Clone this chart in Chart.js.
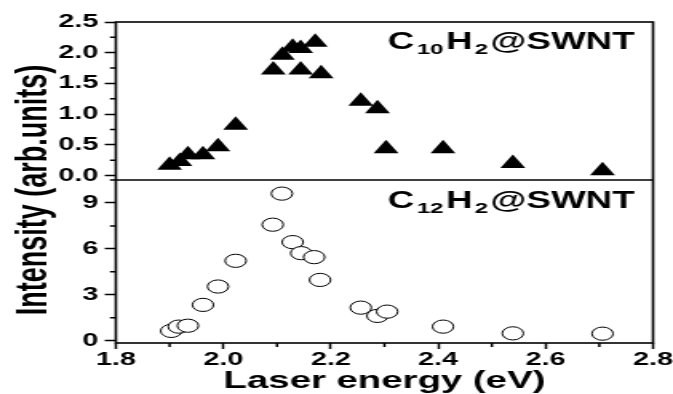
<!DOCTYPE html>
<html>
<head>
<meta charset="utf-8">
<script src="https://cdn.jsdelivr.net/npm/chart.js@4.4.1/dist/chart.umd.min.js"></script>
<style>
html,body{margin:0;padding:0;background:#fff;overflow:hidden;}
#c{display:block;}
</style>
</head>
<body>
<canvas id="c" width="421" height="394" style="width:673px;height:394px;"></canvas>
<script>
// ---- data ----
const energyC10 = [1.900,1.919,1.934,1.962,1.990,2.023,2.093,2.110,2.129,2.144,2.144,2.171,2.182,2.256,2.287,2.303,2.409,2.539,2.706];
const intensityC10 = [0.17,0.23,0.34,0.34,0.47,0.82,1.72,1.96,2.09,2.07,1.72,2.17,1.66,1.21,1.09,0.44,0.44,0.20,0.08];
const energyC12 = [1.903,1.917,1.934,1.962,1.990,2.023,2.092,2.109,2.129,2.145,2.169,2.180,2.256,2.287,2.305,2.409,2.539,2.706];
const intensityC12 = [0.64,0.92,0.98,2.34,3.54,5.22,7.58,9.61,6.44,5.72,5.46,3.97,2.16,1.62,1.90,0.92,0.48,0.46];
const xTicks = [1.8,2.0,2.2,2.4,2.6,2.8];
const xMinorTicks = [1.9,2.1,2.3,2.5,2.7];
const yTopTicks = [0.0,0.5,1.0,1.5,2.0,2.5];
const yTopMinorTicks = [0.25,0.75,1.25,1.75,2.25];
const yBottomTicks = [0,3,6,9];
const yBottomMinorTicks = [1.5,4.5,7.5,10.5];
const labelTop = ['C','10','H','2','@SWNT'];
const labelBottom = ['C','12','H','2','@SWNT'];
const xTitle = 'Laser energy (eV)';
const yTitle = 'Intensity (arb.units)';

const FONT = '"Liberation Sans", Arial, sans-serif';
const toPts = (xs, ys) => xs.map((x, i) => ({x: x, y: ys[i]}));

const decor = {
  id: 'decor',
  afterDraw(chart) {
    const ctx = chart.ctx, a = chart.chartArea;
    const sx = chart.scales.x, yt = chart.scales.yTop, yb = chart.scales.yBottom;
    ctx.save();
    ctx.strokeStyle = '#000';
    // minor ticks
    ctx.lineWidth = 1.5;
    ctx.beginPath();
    xMinorTicks.forEach(v => { const p = sx.getPixelForValue(v); ctx.moveTo(p, a.bottom); ctx.lineTo(p, a.bottom + 4); });
    yTopMinorTicks.forEach(v => { const p = yt.getPixelForValue(v); ctx.moveTo(a.left, p); ctx.lineTo(a.left - 3.75, p); });
    yBottomMinorTicks.forEach(v => { const p = yb.getPixelForValue(v); ctx.moveTo(a.left, p); ctx.lineTo(a.left - 3.75, p); });
    ctx.stroke();
    // frame + separator
    ctx.lineWidth = 1.6;
    ctx.strokeRect(a.left, a.top, a.right - a.left, a.bottom - a.top);
    ctx.beginPath();
    ctx.moveTo(a.left, yt.bottom); ctx.lineTo(a.right, yt.bottom);
    ctx.stroke();
    // titles
    ctx.fillStyle = '#000';
    ctx.font = 'bold 24px ' + FONT;
    ctx.textAlign = 'center';
    ctx.textBaseline = 'alphabetic';
    ctx.fillText(xTitle, (a.left + a.right) / 2, 388);
    ctx.save();
    ctx.translate(28.5, 190);
    ctx.rotate(-Math.PI / 2);
    ctx.font = 'bold 27px ' + FONT;
    ctx.fillText(yTitle, 0, 0);
    ctx.restore();
    // panel labels (right edge aligned)
    const isSub = i => (i === 1 || i === 3);
    const fontOf = i => 'bold ' + (isSub(i) ? 15 : 23) + 'px ' + FONT;
    const gap = i => isSub(i) ? 1.5 : 0;
    const drawLabel = (parts, right, base) => {
      ctx.textAlign = 'left';
      let total = 0;
      parts.forEach((t, i) => { ctx.font = fontOf(i); total += ctx.measureText(t).width + 2 * gap(i); });
      let x = right - total;
      parts.forEach((t, i) => {
        ctx.font = fontOf(i);
        x += gap(i);
        ctx.fillText(t, x, isSub(i) ? base + 5 : base);
        x += ctx.measureText(t).width + gap(i);
      });
    };
    drawLabel(labelTop, 397, 49);
    drawLabel(labelBottom, 397, 208);
    ctx.restore();
  }
};

const tickFont = {family: FONT, size: 18, weight: 'bold'};
new Chart(document.getElementById('c'), {
  type: 'scatter',
  data: {
    datasets: [
      {
        label: 'C10H2@SWNT',
        data: toPts(energyC10, intensityC10),
        yAxisID: 'yTop',
        pointStyle: 'triangle',
        pointRadius: 9,
        pointHoverRadius: 9,
        backgroundColor: '#000',
        borderColor: '#000',
        borderWidth: 0
      },
      {
        label: 'C12H2@SWNT',
        data: toPts(energyC12, intensityC12),
        yAxisID: 'yBottom',
        pointStyle: 'circle',
        pointRadius: 6.6,
        pointHoverRadius: 6.6,
        backgroundColor: '#fff',
        borderColor: '#000',
        borderWidth: 1
      }
    ]
  },
  options: {
    responsive: false,
    animation: false,
    events: [],
    layout: {padding: {top: 22, right: 11.6, bottom: 0, left: 0}},
    plugins: {legend: {display: false}, tooltip: {enabled: false}},
    scales: {
      x: {
        type: 'linear', min: 1.8, max: 2.8,
        afterBuildTicks: s => { s.ticks = xTicks.map(v => ({value: v})); },
        afterFit: s => { s.height = 51; },
        border: {display: false},
        grid: {drawOnChartArea: false, tickLength: 6, tickWidth: 1.5, tickColor: '#000'},
        ticks: {font: tickFont, color: '#000', padding: 0, maxRotation: 0, autoSkip: false, callback: v => v.toFixed(1)}
      },
      yBottom: {
        type: 'linear', position: 'left', stack: 'panels', stackWeight: 163,
        min: -0.15, max: 10.5,
        afterBuildTicks: s => { s.ticks = yBottomTicks.map(v => ({value: v})); },
        afterFit: s => { s.width = 72.5; },
        border: {display: false},
        grid: {drawOnChartArea: false, tickLength: 7, tickWidth: 1.5, tickColor: '#000'},
        ticks: {font: tickFont, color: '#000', padding: 4, autoSkip: false, callback: v => String(v)}
      },
      yTop: {
        type: 'linear', position: 'left', stack: 'panels', stackWeight: 158,
        min: -0.07, max: 2.5,
        afterBuildTicks: s => { s.ticks = yTopTicks.map(v => ({value: v})); },
        afterFit: s => { s.width = 72.5; },
        border: {display: false},
        grid: {drawOnChartArea: false, tickLength: 7, tickWidth: 1.5, tickColor: '#000'},
        ticks: {font: tickFont, color: '#000', padding: 4, autoSkip: false, callback: v => v.toFixed(1)}
      }
    }
  },
  plugins: [decor]
});
</script>
</body>
</html>
